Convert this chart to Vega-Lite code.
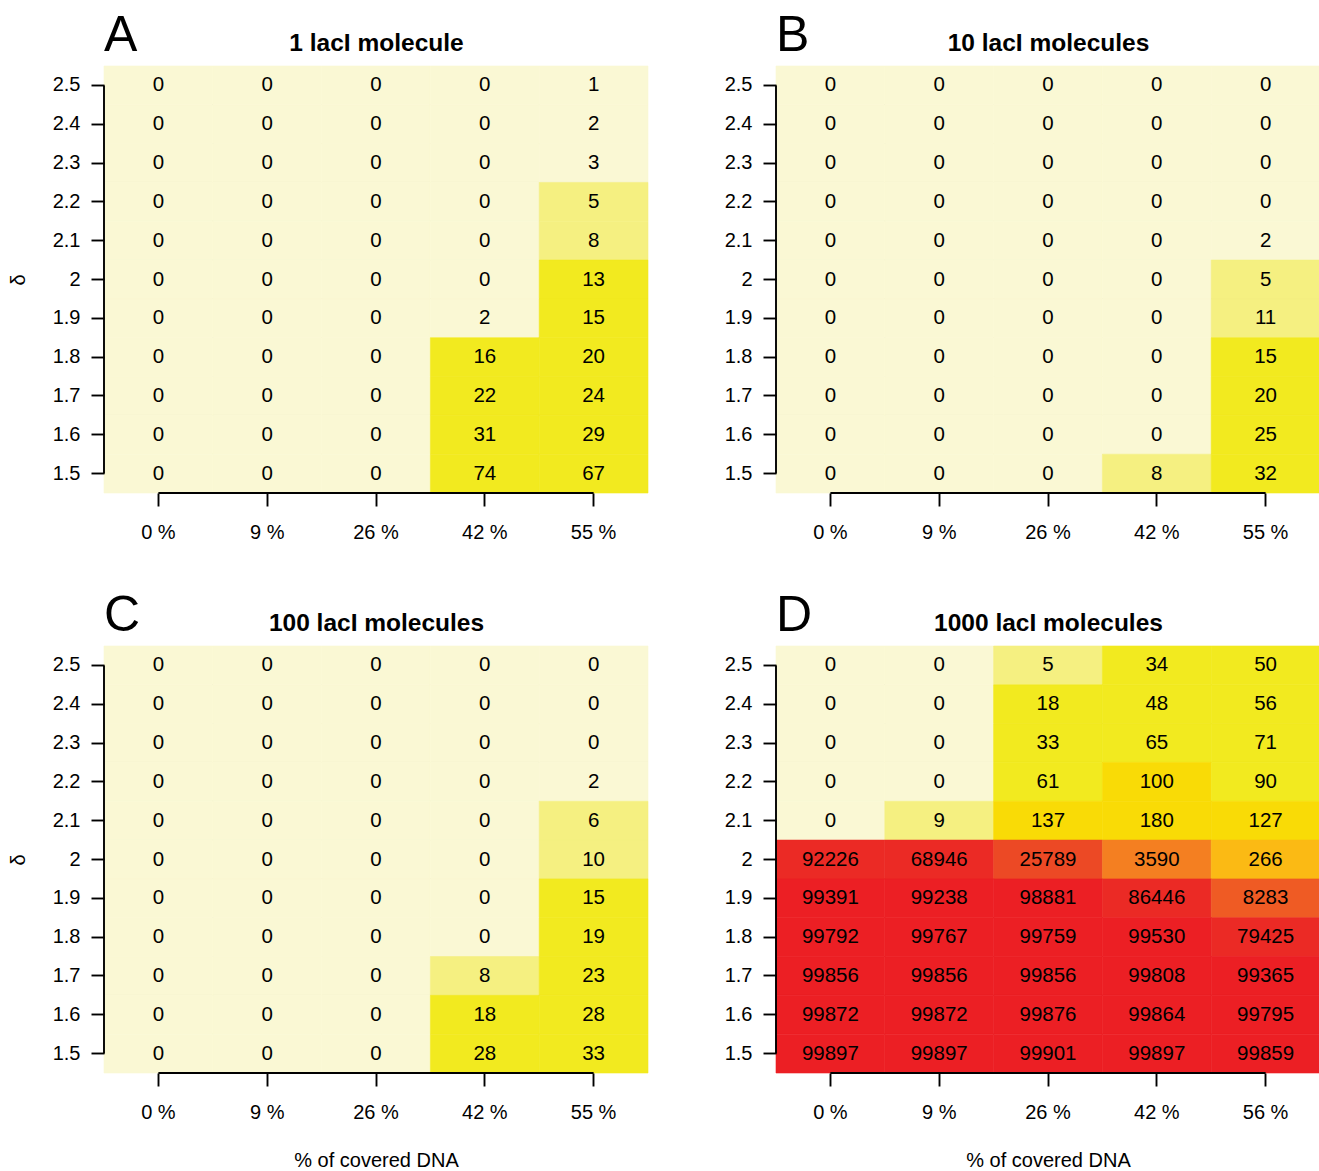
{
  "$schema": "https://vega.github.io/schema/vega-lite/v6.json",
  "padding": {"left": 8, "top": 11, "right": 0, "bottom": 2},
  "config": {
    "font": "Liberation Sans",
    "view": {"stroke": null},
    "axis": {
      "domain": false,
      "grid": false,
      "labelColor": "black",
      "labelFontSize": 20,
      "tickColor": "black",
      "tickSize": 13,
      "tickWidth": 1.9,
      "titleColor": "black",
      "titleFontSize": 20,
      "titleFontWeight": "normal"
    },
    "axisY": {"labelPadding": 11, "titlePadding": 24},
    "title": {"color": "black"},
    "text": {"color": "black"}
  },
  "data": {
    "values": [
      {"p":"A","d":2.5,"c":"0 %","n":0},{"p":"A","d":2.5,"c":"9 %","n":0},{"p":"A","d":2.5,"c":"26 %","n":0},{"p":"A","d":2.5,"c":"42 %","n":0},{"p":"A","d":2.5,"c":"55 %","n":1},
      {"p":"A","d":2.4,"c":"0 %","n":0},{"p":"A","d":2.4,"c":"9 %","n":0},{"p":"A","d":2.4,"c":"26 %","n":0},{"p":"A","d":2.4,"c":"42 %","n":0},{"p":"A","d":2.4,"c":"55 %","n":2},
      {"p":"A","d":2.3,"c":"0 %","n":0},{"p":"A","d":2.3,"c":"9 %","n":0},{"p":"A","d":2.3,"c":"26 %","n":0},{"p":"A","d":2.3,"c":"42 %","n":0},{"p":"A","d":2.3,"c":"55 %","n":3},
      {"p":"A","d":2.2,"c":"0 %","n":0},{"p":"A","d":2.2,"c":"9 %","n":0},{"p":"A","d":2.2,"c":"26 %","n":0},{"p":"A","d":2.2,"c":"42 %","n":0},{"p":"A","d":2.2,"c":"55 %","n":5},
      {"p":"A","d":2.1,"c":"0 %","n":0},{"p":"A","d":2.1,"c":"9 %","n":0},{"p":"A","d":2.1,"c":"26 %","n":0},{"p":"A","d":2.1,"c":"42 %","n":0},{"p":"A","d":2.1,"c":"55 %","n":8},
      {"p":"A","d":2,"c":"0 %","n":0},{"p":"A","d":2,"c":"9 %","n":0},{"p":"A","d":2,"c":"26 %","n":0},{"p":"A","d":2,"c":"42 %","n":0},{"p":"A","d":2,"c":"55 %","n":13},
      {"p":"A","d":1.9,"c":"0 %","n":0},{"p":"A","d":1.9,"c":"9 %","n":0},{"p":"A","d":1.9,"c":"26 %","n":0},{"p":"A","d":1.9,"c":"42 %","n":2},{"p":"A","d":1.9,"c":"55 %","n":15},
      {"p":"A","d":1.8,"c":"0 %","n":0},{"p":"A","d":1.8,"c":"9 %","n":0},{"p":"A","d":1.8,"c":"26 %","n":0},{"p":"A","d":1.8,"c":"42 %","n":16},{"p":"A","d":1.8,"c":"55 %","n":20},
      {"p":"A","d":1.7,"c":"0 %","n":0},{"p":"A","d":1.7,"c":"9 %","n":0},{"p":"A","d":1.7,"c":"26 %","n":0},{"p":"A","d":1.7,"c":"42 %","n":22},{"p":"A","d":1.7,"c":"55 %","n":24},
      {"p":"A","d":1.6,"c":"0 %","n":0},{"p":"A","d":1.6,"c":"9 %","n":0},{"p":"A","d":1.6,"c":"26 %","n":0},{"p":"A","d":1.6,"c":"42 %","n":31},{"p":"A","d":1.6,"c":"55 %","n":29},
      {"p":"A","d":1.5,"c":"0 %","n":0},{"p":"A","d":1.5,"c":"9 %","n":0},{"p":"A","d":1.5,"c":"26 %","n":0},{"p":"A","d":1.5,"c":"42 %","n":74},{"p":"A","d":1.5,"c":"55 %","n":67},

      {"p":"B","d":2.5,"c":"0 %","n":0},{"p":"B","d":2.5,"c":"9 %","n":0},{"p":"B","d":2.5,"c":"26 %","n":0},{"p":"B","d":2.5,"c":"42 %","n":0},{"p":"B","d":2.5,"c":"55 %","n":0},
      {"p":"B","d":2.4,"c":"0 %","n":0},{"p":"B","d":2.4,"c":"9 %","n":0},{"p":"B","d":2.4,"c":"26 %","n":0},{"p":"B","d":2.4,"c":"42 %","n":0},{"p":"B","d":2.4,"c":"55 %","n":0},
      {"p":"B","d":2.3,"c":"0 %","n":0},{"p":"B","d":2.3,"c":"9 %","n":0},{"p":"B","d":2.3,"c":"26 %","n":0},{"p":"B","d":2.3,"c":"42 %","n":0},{"p":"B","d":2.3,"c":"55 %","n":0},
      {"p":"B","d":2.2,"c":"0 %","n":0},{"p":"B","d":2.2,"c":"9 %","n":0},{"p":"B","d":2.2,"c":"26 %","n":0},{"p":"B","d":2.2,"c":"42 %","n":0},{"p":"B","d":2.2,"c":"55 %","n":0},
      {"p":"B","d":2.1,"c":"0 %","n":0},{"p":"B","d":2.1,"c":"9 %","n":0},{"p":"B","d":2.1,"c":"26 %","n":0},{"p":"B","d":2.1,"c":"42 %","n":0},{"p":"B","d":2.1,"c":"55 %","n":2},
      {"p":"B","d":2,"c":"0 %","n":0},{"p":"B","d":2,"c":"9 %","n":0},{"p":"B","d":2,"c":"26 %","n":0},{"p":"B","d":2,"c":"42 %","n":0},{"p":"B","d":2,"c":"55 %","n":5},
      {"p":"B","d":1.9,"c":"0 %","n":0},{"p":"B","d":1.9,"c":"9 %","n":0},{"p":"B","d":1.9,"c":"26 %","n":0},{"p":"B","d":1.9,"c":"42 %","n":0},{"p":"B","d":1.9,"c":"55 %","n":11},
      {"p":"B","d":1.8,"c":"0 %","n":0},{"p":"B","d":1.8,"c":"9 %","n":0},{"p":"B","d":1.8,"c":"26 %","n":0},{"p":"B","d":1.8,"c":"42 %","n":0},{"p":"B","d":1.8,"c":"55 %","n":15},
      {"p":"B","d":1.7,"c":"0 %","n":0},{"p":"B","d":1.7,"c":"9 %","n":0},{"p":"B","d":1.7,"c":"26 %","n":0},{"p":"B","d":1.7,"c":"42 %","n":0},{"p":"B","d":1.7,"c":"55 %","n":20},
      {"p":"B","d":1.6,"c":"0 %","n":0},{"p":"B","d":1.6,"c":"9 %","n":0},{"p":"B","d":1.6,"c":"26 %","n":0},{"p":"B","d":1.6,"c":"42 %","n":0},{"p":"B","d":1.6,"c":"55 %","n":25},
      {"p":"B","d":1.5,"c":"0 %","n":0},{"p":"B","d":1.5,"c":"9 %","n":0},{"p":"B","d":1.5,"c":"26 %","n":0},{"p":"B","d":1.5,"c":"42 %","n":8},{"p":"B","d":1.5,"c":"55 %","n":32},

      {"p":"C","d":2.5,"c":"0 %","n":0},{"p":"C","d":2.5,"c":"9 %","n":0},{"p":"C","d":2.5,"c":"26 %","n":0},{"p":"C","d":2.5,"c":"42 %","n":0},{"p":"C","d":2.5,"c":"55 %","n":0},
      {"p":"C","d":2.4,"c":"0 %","n":0},{"p":"C","d":2.4,"c":"9 %","n":0},{"p":"C","d":2.4,"c":"26 %","n":0},{"p":"C","d":2.4,"c":"42 %","n":0},{"p":"C","d":2.4,"c":"55 %","n":0},
      {"p":"C","d":2.3,"c":"0 %","n":0},{"p":"C","d":2.3,"c":"9 %","n":0},{"p":"C","d":2.3,"c":"26 %","n":0},{"p":"C","d":2.3,"c":"42 %","n":0},{"p":"C","d":2.3,"c":"55 %","n":0},
      {"p":"C","d":2.2,"c":"0 %","n":0},{"p":"C","d":2.2,"c":"9 %","n":0},{"p":"C","d":2.2,"c":"26 %","n":0},{"p":"C","d":2.2,"c":"42 %","n":0},{"p":"C","d":2.2,"c":"55 %","n":2},
      {"p":"C","d":2.1,"c":"0 %","n":0},{"p":"C","d":2.1,"c":"9 %","n":0},{"p":"C","d":2.1,"c":"26 %","n":0},{"p":"C","d":2.1,"c":"42 %","n":0},{"p":"C","d":2.1,"c":"55 %","n":6},
      {"p":"C","d":2,"c":"0 %","n":0},{"p":"C","d":2,"c":"9 %","n":0},{"p":"C","d":2,"c":"26 %","n":0},{"p":"C","d":2,"c":"42 %","n":0},{"p":"C","d":2,"c":"55 %","n":10},
      {"p":"C","d":1.9,"c":"0 %","n":0},{"p":"C","d":1.9,"c":"9 %","n":0},{"p":"C","d":1.9,"c":"26 %","n":0},{"p":"C","d":1.9,"c":"42 %","n":0},{"p":"C","d":1.9,"c":"55 %","n":15},
      {"p":"C","d":1.8,"c":"0 %","n":0},{"p":"C","d":1.8,"c":"9 %","n":0},{"p":"C","d":1.8,"c":"26 %","n":0},{"p":"C","d":1.8,"c":"42 %","n":0},{"p":"C","d":1.8,"c":"55 %","n":19},
      {"p":"C","d":1.7,"c":"0 %","n":0},{"p":"C","d":1.7,"c":"9 %","n":0},{"p":"C","d":1.7,"c":"26 %","n":0},{"p":"C","d":1.7,"c":"42 %","n":8},{"p":"C","d":1.7,"c":"55 %","n":23},
      {"p":"C","d":1.6,"c":"0 %","n":0},{"p":"C","d":1.6,"c":"9 %","n":0},{"p":"C","d":1.6,"c":"26 %","n":0},{"p":"C","d":1.6,"c":"42 %","n":18},{"p":"C","d":1.6,"c":"55 %","n":28},
      {"p":"C","d":1.5,"c":"0 %","n":0},{"p":"C","d":1.5,"c":"9 %","n":0},{"p":"C","d":1.5,"c":"26 %","n":0},{"p":"C","d":1.5,"c":"42 %","n":28},{"p":"C","d":1.5,"c":"55 %","n":33},

      {"p":"D","d":2.5,"c":"0 %","n":0},{"p":"D","d":2.5,"c":"9 %","n":0},{"p":"D","d":2.5,"c":"26 %","n":5},{"p":"D","d":2.5,"c":"42 %","n":34},{"p":"D","d":2.5,"c":"56 %","n":50},
      {"p":"D","d":2.4,"c":"0 %","n":0},{"p":"D","d":2.4,"c":"9 %","n":0},{"p":"D","d":2.4,"c":"26 %","n":18},{"p":"D","d":2.4,"c":"42 %","n":48},{"p":"D","d":2.4,"c":"56 %","n":56},
      {"p":"D","d":2.3,"c":"0 %","n":0},{"p":"D","d":2.3,"c":"9 %","n":0},{"p":"D","d":2.3,"c":"26 %","n":33},{"p":"D","d":2.3,"c":"42 %","n":65},{"p":"D","d":2.3,"c":"56 %","n":71},
      {"p":"D","d":2.2,"c":"0 %","n":0},{"p":"D","d":2.2,"c":"9 %","n":0},{"p":"D","d":2.2,"c":"26 %","n":61},{"p":"D","d":2.2,"c":"42 %","n":100},{"p":"D","d":2.2,"c":"56 %","n":90},
      {"p":"D","d":2.1,"c":"0 %","n":0},{"p":"D","d":2.1,"c":"9 %","n":9},{"p":"D","d":2.1,"c":"26 %","n":137},{"p":"D","d":2.1,"c":"42 %","n":180},{"p":"D","d":2.1,"c":"56 %","n":127},
      {"p":"D","d":2,"c":"0 %","n":92226},{"p":"D","d":2,"c":"9 %","n":68946},{"p":"D","d":2,"c":"26 %","n":25789},{"p":"D","d":2,"c":"42 %","n":3590},{"p":"D","d":2,"c":"56 %","n":266},
      {"p":"D","d":1.9,"c":"0 %","n":99391},{"p":"D","d":1.9,"c":"9 %","n":99238},{"p":"D","d":1.9,"c":"26 %","n":98881},{"p":"D","d":1.9,"c":"42 %","n":86446},{"p":"D","d":1.9,"c":"56 %","n":8283},
      {"p":"D","d":1.8,"c":"0 %","n":99792},{"p":"D","d":1.8,"c":"9 %","n":99767},{"p":"D","d":1.8,"c":"26 %","n":99759},{"p":"D","d":1.8,"c":"42 %","n":99530},{"p":"D","d":1.8,"c":"56 %","n":79425},
      {"p":"D","d":1.7,"c":"0 %","n":99856},{"p":"D","d":1.7,"c":"9 %","n":99856},{"p":"D","d":1.7,"c":"26 %","n":99856},{"p":"D","d":1.7,"c":"42 %","n":99808},{"p":"D","d":1.7,"c":"56 %","n":99365},
      {"p":"D","d":1.6,"c":"0 %","n":99872},{"p":"D","d":1.6,"c":"9 %","n":99872},{"p":"D","d":1.6,"c":"26 %","n":99876},{"p":"D","d":1.6,"c":"42 %","n":99864},{"p":"D","d":1.6,"c":"56 %","n":99795},
      {"p":"D","d":1.5,"c":"0 %","n":99897},{"p":"D","d":1.5,"c":"9 %","n":99897},{"p":"D","d":1.5,"c":"26 %","n":99901},{"p":"D","d":1.5,"c":"42 %","n":99897},{"p":"D","d":1.5,"c":"56 %","n":99859}
    ]
  },
  "columns": 2,
  "bounds": "flush",
  "spacing": {"column": 128, "row": 153},
  "concat": [
    {
      "width": 544, "height": 427,
      "title": {"text": "A", "anchor": "start", "frame": "group", "fontSize": 50, "fontWeight": "normal", "baseline": "alphabetic", "offset": -20, "dy": 51},
      "transform": [{"filter": "datum.p == 'A'"}],
      "resolve": {"axis": {"x": "independent"}},
      "layer": [
        {
          "mark": {"type": "rect", "strokeWidth": 0.6},
          "encoding": {
            "x": {"field": "c", "type": "nominal", "scale": {"domain": ["0 %", "9 %", "26 %", "42 %", "55 %"], "paddingInner": 0, "paddingOuter": 0},
                  "axis": {"orient": "bottom", "title": null, "labelAngle": 0, "labelPadding": 16}},
            "y": {"field": "d", "type": "ordinal", "title": "δ", "scale": {"domain": [2.5, 2.4, 2.3, 2.2, 2.1, 2, 1.9, 1.8, 1.7, 1.6, 1.5], "paddingInner": 0, "paddingOuter": 0}},
            "color": {"field": "n", "type": "quantitative", "legend": null,
                      "scale": {"type": "threshold", "domain": [4, 12, 100, 200, 1000, 5000, 20000, 50000, 97000],
                                "range": ["#FAF8D4", "#F5F081", "#F2EA1F", "#F9DB06", "#FBBA14", "#F47F21", "#EF5B24", "#EC4925", "#EB2A25", "#EC1F24"]}},
            "stroke": {"field": "n", "type": "quantitative", "legend": null,
                      "scale": {"type": "threshold", "domain": [4, 12, 100, 200, 1000, 5000, 20000, 50000, 97000],
                                "range": ["#FAF8D4", "#F5F081", "#F2EA1F", "#F9DB06", "#FBBA14", "#F47F21", "#EF5B24", "#EC4925", "#EB2A25", "#EC1F24"]}}
          }
        },
        {
          "mark": {"type": "text", "fontSize": 20.5},
          "encoding": {
            "x": {"field": "c", "type": "nominal", "axis": {"orient": "top", "title": "1 lacI molecule", "labels": false, "ticks": false, "titleFontSize": 24.5, "titleFontWeight": "bold", "titlePadding": 16, "titleBaseline": "alphabetic"}},
            "y": {"field": "d", "type": "ordinal", "title": "δ"},
            "text": {"field": "n", "type": "quantitative", "format": "d"}
          }
        },
        {
          "transform": [{"filter": "datum.c == '0 %'"}],
          "mark": {"type": "line", "color": "black", "strokeWidth": 1.9},
          "encoding": {
            "x": {"field": "c", "type": "nominal", "bandPosition": 0, "axis": null},
            "y": {"field": "d", "type": "ordinal", "title": "δ"}
          }
        },
        {
          "transform": [{"filter": "datum.d == 1.5"}],
          "mark": {"type": "line", "color": "black", "strokeWidth": 1.9},
          "encoding": {
            "x": {"field": "c", "type": "nominal", "axis": null},
            "y": {"field": "d", "type": "ordinal", "title": "δ", "bandPosition": 1}
          }
        }
      ]
    },
    {
      "width": 544, "height": 427,
      "title": {"text": "B", "anchor": "start", "frame": "group", "fontSize": 50, "fontWeight": "normal", "baseline": "alphabetic", "offset": -20, "dy": 51},
      "transform": [{"filter": "datum.p == 'B'"}],
      "resolve": {"axis": {"x": "independent"}},
      "layer": [
        {
          "mark": {"type": "rect", "strokeWidth": 0.6},
          "encoding": {
            "x": {"field": "c", "type": "nominal", "scale": {"domain": ["0 %", "9 %", "26 %", "42 %", "55 %"], "paddingInner": 0, "paddingOuter": 0},
                  "axis": {"orient": "bottom", "title": null, "labelAngle": 0, "labelPadding": 16}},
            "y": {"field": "d", "type": "ordinal", "title": null, "scale": {"domain": [2.5, 2.4, 2.3, 2.2, 2.1, 2, 1.9, 1.8, 1.7, 1.6, 1.5], "paddingInner": 0, "paddingOuter": 0}},
            "color": {"field": "n", "type": "quantitative", "legend": null,
                      "scale": {"type": "threshold", "domain": [4, 12, 100, 200, 1000, 5000, 20000, 50000, 97000],
                                "range": ["#FAF8D4", "#F5F081", "#F2EA1F", "#F9DB06", "#FBBA14", "#F47F21", "#EF5B24", "#EC4925", "#EB2A25", "#EC1F24"]}},
            "stroke": {"field": "n", "type": "quantitative", "legend": null,
                      "scale": {"type": "threshold", "domain": [4, 12, 100, 200, 1000, 5000, 20000, 50000, 97000],
                                "range": ["#FAF8D4", "#F5F081", "#F2EA1F", "#F9DB06", "#FBBA14", "#F47F21", "#EF5B24", "#EC4925", "#EB2A25", "#EC1F24"]}}
          }
        },
        {
          "mark": {"type": "text", "fontSize": 20.5},
          "encoding": {
            "x": {"field": "c", "type": "nominal", "axis": {"orient": "top", "title": "10 lacI molecules", "labels": false, "ticks": false, "titleFontSize": 24.5, "titleFontWeight": "bold", "titlePadding": 16, "titleBaseline": "alphabetic"}},
            "y": {"field": "d", "type": "ordinal", "title": null},
            "text": {"field": "n", "type": "quantitative", "format": "d"}
          }
        },
        {
          "transform": [{"filter": "datum.c == '0 %'"}],
          "mark": {"type": "line", "color": "black", "strokeWidth": 1.9},
          "encoding": {
            "x": {"field": "c", "type": "nominal", "bandPosition": 0, "axis": null},
            "y": {"field": "d", "type": "ordinal", "title": null}
          }
        },
        {
          "transform": [{"filter": "datum.d == 1.5"}],
          "mark": {"type": "line", "color": "black", "strokeWidth": 1.9},
          "encoding": {
            "x": {"field": "c", "type": "nominal", "axis": null},
            "y": {"field": "d", "type": "ordinal", "title": null, "bandPosition": 1}
          }
        }
      ]
    },
    {
      "width": 544, "height": 427,
      "title": {"text": "C", "anchor": "start", "frame": "group", "fontSize": 50, "fontWeight": "normal", "baseline": "alphabetic", "offset": -20, "dy": 51},
      "transform": [{"filter": "datum.p == 'C'"}],
      "resolve": {"axis": {"x": "independent"}},
      "layer": [
        {
          "mark": {"type": "rect", "strokeWidth": 0.6},
          "encoding": {
            "x": {"field": "c", "type": "nominal", "scale": {"domain": ["0 %", "9 %", "26 %", "42 %", "55 %"], "paddingInner": 0, "paddingOuter": 0},
                  "axis": {"orient": "bottom", "title": "% of covered DNA", "labelAngle": 0, "labelPadding": 16, "titlePadding": 28}},
            "y": {"field": "d", "type": "ordinal", "title": "δ", "scale": {"domain": [2.5, 2.4, 2.3, 2.2, 2.1, 2, 1.9, 1.8, 1.7, 1.6, 1.5], "paddingInner": 0, "paddingOuter": 0}},
            "color": {"field": "n", "type": "quantitative", "legend": null,
                      "scale": {"type": "threshold", "domain": [4, 12, 100, 200, 1000, 5000, 20000, 50000, 97000],
                                "range": ["#FAF8D4", "#F5F081", "#F2EA1F", "#F9DB06", "#FBBA14", "#F47F21", "#EF5B24", "#EC4925", "#EB2A25", "#EC1F24"]}},
            "stroke": {"field": "n", "type": "quantitative", "legend": null,
                      "scale": {"type": "threshold", "domain": [4, 12, 100, 200, 1000, 5000, 20000, 50000, 97000],
                                "range": ["#FAF8D4", "#F5F081", "#F2EA1F", "#F9DB06", "#FBBA14", "#F47F21", "#EF5B24", "#EC4925", "#EB2A25", "#EC1F24"]}}
          }
        },
        {
          "mark": {"type": "text", "fontSize": 20.5},
          "encoding": {
            "x": {"field": "c", "type": "nominal", "axis": {"orient": "top", "title": "100 lacI molecules", "labels": false, "ticks": false, "titleFontSize": 24.5, "titleFontWeight": "bold", "titlePadding": 16, "titleBaseline": "alphabetic"}},
            "y": {"field": "d", "type": "ordinal", "title": "δ"},
            "text": {"field": "n", "type": "quantitative", "format": "d"}
          }
        },
        {
          "transform": [{"filter": "datum.c == '0 %'"}],
          "mark": {"type": "line", "color": "black", "strokeWidth": 1.9},
          "encoding": {
            "x": {"field": "c", "type": "nominal", "bandPosition": 0, "axis": null},
            "y": {"field": "d", "type": "ordinal", "title": "δ"}
          }
        },
        {
          "transform": [{"filter": "datum.d == 1.5"}],
          "mark": {"type": "line", "color": "black", "strokeWidth": 1.9},
          "encoding": {
            "x": {"field": "c", "type": "nominal", "axis": null},
            "y": {"field": "d", "type": "ordinal", "title": "δ", "bandPosition": 1}
          }
        }
      ]
    },
    {
      "width": 544, "height": 427,
      "title": {"text": "D", "anchor": "start", "frame": "group", "fontSize": 50, "fontWeight": "normal", "baseline": "alphabetic", "offset": -20, "dy": 51},
      "transform": [{"filter": "datum.p == 'D'"}],
      "resolve": {"axis": {"x": "independent"}},
      "layer": [
        {
          "mark": {"type": "rect", "strokeWidth": 0.6},
          "encoding": {
            "x": {"field": "c", "type": "nominal", "scale": {"domain": ["0 %", "9 %", "26 %", "42 %", "56 %"], "paddingInner": 0, "paddingOuter": 0},
                  "axis": {"orient": "bottom", "title": "% of covered DNA", "labelAngle": 0, "labelPadding": 16, "titlePadding": 28}},
            "y": {"field": "d", "type": "ordinal", "title": null, "scale": {"domain": [2.5, 2.4, 2.3, 2.2, 2.1, 2, 1.9, 1.8, 1.7, 1.6, 1.5], "paddingInner": 0, "paddingOuter": 0}},
            "color": {"field": "n", "type": "quantitative", "legend": null,
                      "scale": {"type": "threshold", "domain": [4, 12, 100, 200, 1000, 5000, 20000, 50000, 97000],
                                "range": ["#FAF8D4", "#F5F081", "#F2EA1F", "#F9DB06", "#FBBA14", "#F47F21", "#EF5B24", "#EC4925", "#EB2A25", "#EC1F24"]}},
            "stroke": {"field": "n", "type": "quantitative", "legend": null,
                      "scale": {"type": "threshold", "domain": [4, 12, 100, 200, 1000, 5000, 20000, 50000, 97000],
                                "range": ["#FAF8D4", "#F5F081", "#F2EA1F", "#F9DB06", "#FBBA14", "#F47F21", "#EF5B24", "#EC4925", "#EB2A25", "#EC1F24"]}}
          }
        },
        {
          "mark": {"type": "text", "fontSize": 20.5},
          "encoding": {
            "x": {"field": "c", "type": "nominal", "axis": {"orient": "top", "title": "1000 lacI molecules", "labels": false, "ticks": false, "titleFontSize": 24.5, "titleFontWeight": "bold", "titlePadding": 16, "titleBaseline": "alphabetic"}},
            "y": {"field": "d", "type": "ordinal", "title": null},
            "text": {"field": "n", "type": "quantitative", "format": "d"}
          }
        },
        {
          "transform": [{"filter": "datum.c == '0 %'"}],
          "mark": {"type": "line", "color": "black", "strokeWidth": 1.9},
          "encoding": {
            "x": {"field": "c", "type": "nominal", "bandPosition": 0, "axis": null},
            "y": {"field": "d", "type": "ordinal", "title": null}
          }
        },
        {
          "transform": [{"filter": "datum.d == 1.5"}],
          "mark": {"type": "line", "color": "black", "strokeWidth": 1.9},
          "encoding": {
            "x": {"field": "c", "type": "nominal", "axis": null},
            "y": {"field": "d", "type": "ordinal", "title": null, "bandPosition": 1}
          }
        }
      ]
    }
  ]
}
